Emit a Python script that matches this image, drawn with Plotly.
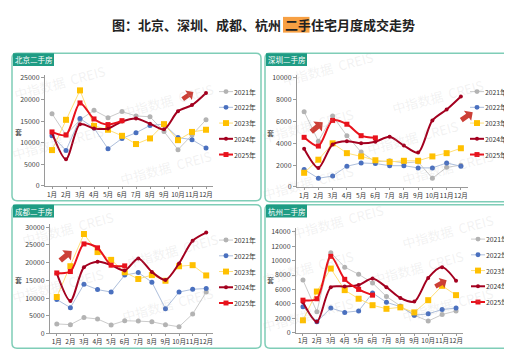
import plotly.graph_objects as go
import math

W, H = 512, 358
FONT = "Noto Sans CJK SC"

months = ["1月", "2月", "3月", "4月", "5月", "6月", "7月", "8月", "9月", "10月", "11月", "12月"]
years = ["2021年", "2022年", "2023年", "2024年", "2025年"]

# Beijing
bj_2021 = [16700, 11800, 15300, 17500, 15800, 17200, 16200, 16000, 12600, 8400, 11800, 15300]
bj_2022 = [11600, 8200, 15600, 13400, 8600, 11000, 12300, 14000, 14300, 11200, 10700, 8800]
bj_2023 = [8300, 15300, 22100, 13900, 13000, 11600, 9700, 11000, 14300, 10600, 12500, 13000]
bj_2024 = [12300, 6200, 14300, 13300, 13300, 14900, 15600, 14400, 13100, 17300, 18700, 21500]
bj_2025 = [12500, 11800, 19200, 15500, 14200, 15100]

# Shenzhen
sz_2021 = [6900, 4200, 6500, 4700, 3200, 2300, 2400, 2200, 2300, 800, 1800, 2000]
sz_2022 = [1600, 800, 1000, 1900, 2200, 2150, 1950, 1950, 1750, 1750, 2200, 1900]
sz_2023 = [1300, 2500, 4000, 3100, 2800, 2450, 2300, 2400, 2400, 2800, 3100, 3550]
sz_2024 = [3500, 1750, 3900, 4200, 4000, 4150, 4600, 3800, 3150, 6100, 7100, 8300]
sz_2025 = [4550, 3750, 6100, 5750, 4700, 4500]

# Chengdu
cd_2021 = [2700, 2500, 4500, 4100, 2400, 3600, 3500, 3300, 2500, 1900, 5500, 11700]
cd_2022 = [9600, 7300, 13900, 12400, 11700, 16500, 17200, 14500, 7000, 11700, 12500, 12700]
cd_2023 = [10300, 19000, 28100, 23000, 20800, 17300, 15400, 16500, 14900, 19000, 19300, 16400]
cd_2024 = [17000, 9200, 18700, 20300, 19300, 17800, 21200, 17400, 15100, 19800, 26200, 28500]
cd_2025 = [17100, 17500, 25300, 24200, 19300, 19100]

# Hangzhou
hz_2021 = [7300, 2900, 11100, 9100, 8100, 6900, 5000, 3700, 2400, 1600, 2500, 3000]
hz_2022 = [3600, 1500, 3400, 2800, 3000, 5500, 4200, 3600, 2400, 2600, 3200, 3400]
hz_2023 = [1700, 5700, 8900, 5900, 4700, 3800, 3300, 3500, 2800, 4500, 6500, 5200]
hz_2024 = [4200, 1500, 6300, 6400, 6600, 7500, 6300, 4800, 4300, 7600, 9100, 7200]
hz_2025 = [4500, 4700, 10600, 7400, 6000, 5200]

panel_titles = ["北京二手房", "深圳二手房", "成都二手房", "杭州二手房"]

panels = [
    dict(series=[bj_2021, bj_2022, bj_2023, bj_2024, bj_2025], tick=5000, tmax=25000,
         xd=(37, 205), y0=179, ytop=69, rmax=25700,
         box=(4, 44, 253, 194), leg=(211, 83), unit=(10, 124)),
    dict(series=[sz_2021, sz_2022, sz_2023, sz_2024, sz_2025], tick=2000, tmax=10000,
         xd=(289, 460), y0=180, ytop=69, rmax=10300,
         box=(257, 44, 507, 195), leg=(462, 83), unit=(262, 125)),
    dict(series=[cd_2021, cd_2022, cd_2023, cd_2024, cd_2025], tick=5000, tmax=30000,
         xd=(42, 205), y0=329, ytop=221, rmax=30900,
         box=(4, 198, 253, 344), leg=(211, 234), unit=(10, 275)),
    dict(series=[hz_2021, hz_2022, hz_2023, hz_2024, hz_2025], tick=2000, tmax=14000,
         xd=(288, 455), y0=328, ytop=225.7, rmax=14600,
         box=(257, 198, 507, 344), leg=(463, 233), unit=(262, 275)),
]

styles = [
    dict(line=dict(color="#cbcbcb", width=1), marker=dict(symbol="circle", size=5, color="#b3b3b3"), smooth=False),
    dict(line=dict(color="#aebfdc", width=1), marker=dict(symbol="circle", size=5, color="#4a70bf"), smooth=False),
    dict(line=dict(color="#ffe07a", width=1), marker=dict(symbol="square", size=6, color="#ffc000"), smooth=False),
    dict(line=dict(color="#a3001f", width=2), marker=dict(symbol="circle", size=4, color="#a3001f"), smooth=True),
    dict(line=dict(color="#e8121c", width=2), marker=dict(symbol="square", size=5, color="#e8121c"), smooth=True),
]


def px(x):
    return x / W


def py(y):
    return 1 - y / H


fig = go.Figure()
layout = dict(width=W, height=H, margin=dict(l=0, r=0, t=0, b=0),
              paper_bgcolor="white", plot_bgcolor="rgba(0,0,0,0)",
              showlegend=False, font=dict(family=FONT, color="#404040"))
shapes = []
annotations = []

for i, p in enumerate(panels):
    n = i + 1
    xa = "x" if n == 1 else f"x{n}"
    ya = "y" if n == 1 else f"y{n}"
    for k, (vals, st) in enumerate(zip(p["series"], styles)):
        fig.add_trace(go.Scatter(
            x=months[:len(vals)], y=vals, mode="lines+markers", name=years[k],
            line=dict(color=st["line"]["color"], width=st["line"]["width"],
                      shape="spline" if st["smooth"] else "linear", smoothing=0.8),
            marker=st["marker"], xaxis=xa, yaxis=ya, cliponaxis=False))
    ppu = (p["y0"] - p["ytop"]) / p["tmax"]
    top_px = p["y0"] - ppu * p["rmax"]
    xkey = "xaxis" if n == 1 else f"xaxis{n}"
    ykey = "yaxis" if n == 1 else f"yaxis{n}"
    layout[xkey] = dict(domain=[px(p["xd"][0]), px(p["xd"][1])], anchor=ya,
                        type="category", categoryorder="array", categoryarray=months,
                        range=[-0.5, 11.5], showline=True, linecolor="#9a9a9a", linewidth=1,
                        ticks="outside", ticklen=2, tickcolor="#9a9a9a", showgrid=False,
                        tickfont=dict(size=6.5, color="#333333", family=FONT), tickangle=0,
                        zeroline=False, fixedrange=True)
    layout[ykey] = dict(domain=[py(p["y0"]), py(top_px)], anchor=xa,
                        range=[0, p["rmax"]], tickmode="linear", tick0=0, dtick=p["tick"],
                        showline=True, linecolor="#9a9a9a", linewidth=1,
                        ticks="outside", ticklen=3, tickcolor="#9a9a9a", showgrid=False,
                        tickfont=dict(size=7, color="#404040", family=FONT),
                        tickformat="d", zeroline=False, fixedrange=True)

    # panel frame (rounded)
    x0, y0, x1, y1 = p["box"]
    r = 5
    path = (f"M {px(x0 + r)},{py(y0)} L {px(x1 - r)},{py(y0)} Q {px(x1)},{py(y0)} {px(x1)},{py(y0 + r)} "
            f"L {px(x1)},{py(y1 - r)} Q {px(x1)},{py(y1)} {px(x1 - r)},{py(y1)} "
            f"L {px(x0 + r)},{py(y1)} Q {px(x0)},{py(y1)} {px(x0)},{py(y1 - r)} "
            f"L {px(x0)},{py(y0 + r)} Q {px(x0)},{py(y0)} {px(x0 + r)},{py(y0)} Z")
    shapes.append(dict(type="path", xref="paper", yref="paper", path=path,
                       line=dict(color="#7fcdb7", width=1.5), fillcolor="rgba(0,0,0,0)", layer="below"))
    # title tab
    shapes.append(dict(type="rect", xref="paper", yref="paper",
                       x0=px(x0 + 1), x1=px(x0 + 42), y0=py(y0 + 13), y1=py(y0),
                       line=dict(width=0), fillcolor="#1f9c84", layer="above"))
    annotations.append(dict(x=px(x0 + 21.5), y=py(y0 + 6.5), xref="paper", yref="paper",
                            text=panel_titles[i], showarrow=False, xanchor="center", yanchor="middle",
                            font=dict(size=7.5, color="white", family=FONT)))
    # unit
    annotations.append(dict(x=px(p["unit"][0]), y=py(p["unit"][1]), xref="paper", yref="paper",
                            text="套", showarrow=False, xanchor="center", yanchor="middle",
                            font=dict(size=7, color="#333333", family=FONT)))
    # legend
    lx, ly = p["leg"]
    for k, st in enumerate(styles):
        yy = ly + k * 16
        shapes.append(dict(type="line", xref="paper", yref="paper",
                           x0=px(lx), x1=px(lx + 14), y0=py(yy), y1=py(yy),
                           line=dict(color=st["line"]["color"], width=st["line"]["width"])))
        ms = st["marker"]["size"] / 2
        stype = "circle" if st["marker"]["symbol"] == "circle" else "rect"
        shapes.append(dict(type=stype, xref="paper", yref="paper",
                           x0=px(lx + 7 - ms), x1=px(lx + 7 + ms), y0=py(yy + ms), y1=py(yy - ms),
                           line=dict(width=0), fillcolor=st["marker"]["color"]))
        annotations.append(dict(x=px(lx + 14), y=py(yy), xref="paper", yref="paper",
                                text=years[k], showarrow=False, xanchor="left", yanchor="middle",
                                borderpad=0, font=dict(size=6.8, color="#333333", family=FONT)))

# watermarks
wm = [(52, 74), (160, 92), (50, 135), (158, 160), (320, 60), (430, 88), (300, 117), (405, 130), (300, 175),
      (440, 160), (60, 222), (165, 245), (50, 280), (160, 300), (330, 215), (440, 225), (300, 262),
      (410, 262), (300, 310), (440, 300)]
for (wx, wy) in wm:
    annotations.append(dict(x=px(wx), y=py(wy), xref="paper", yref="paper", text="中指数据  CREIS",
                            showarrow=False, textangle=-15, xanchor="center", yanchor="middle",
                            font=dict(size=13, color="rgba(170,170,170,0.16)", family=FONT)))

# red block arrows (decorative)
def block_arrow(cx, cy, size, ang_deg):
    a = math.radians(ang_deg)
    pts = [(-0.5, -0.18), (0.05, -0.18), (0.05, -0.45), (0.5, 0), (0.05, 0.45), (0.05, 0.18), (-0.5, 0.18)]
    out = []
    for (u, v) in pts:
        x = cx + size * (u * math.cos(a) - v * math.sin(a))
        y = cy - size * (u * math.sin(a) + v * math.cos(a))
        out.append(f"{px(x)},{py(y)}")
    return "M " + " L ".join(out) + " Z"

for (cx, cy, s, ang) in [(180, 87, 13, 35), (309, 119, 15, 40), (459, 108, 14, 35), (58, 250, 15, 40), (433, 278, 13, 30)]:
    shapes.append(dict(type="path", xref="paper", yref="paper", path=block_arrow(cx, cy, s, ang),
                       line=dict(width=0), fillcolor="#cc3f36"))

# title with highlight
annotations.append(dict(x=px(275), y=py(15), xref="paper", yref="paper", text="<b>图：北京、深圳、成都、杭州</b>",
                        showarrow=False, xanchor="right", yanchor="middle",
                        font=dict(size=13, color="#222222", family=FONT)))
shapes.append(dict(type="rect", xref="paper", yref="paper", x0=px(275), x1=px(301.5), y0=py(23), y1=py(7),
                   line=dict(width=0), fillcolor="#f7a043"))
annotations.append(dict(x=px(275), y=py(15), xref="paper", yref="paper", text="<b>二手</b>",
                        showarrow=False, xanchor="left", yanchor="middle",
                        font=dict(size=13, color="#222222", family=FONT)))
annotations.append(dict(x=px(301), y=py(15), xref="paper", yref="paper", text="<b>住宅月度成交走势</b>",
                        showarrow=False, xanchor="left", yanchor="middle",
                        font=dict(size=13, color="#222222", family=FONT)))

layout["shapes"] = shapes
layout["annotations"] = annotations
fig.update_layout(**layout)
fig.write_html("out.html")
